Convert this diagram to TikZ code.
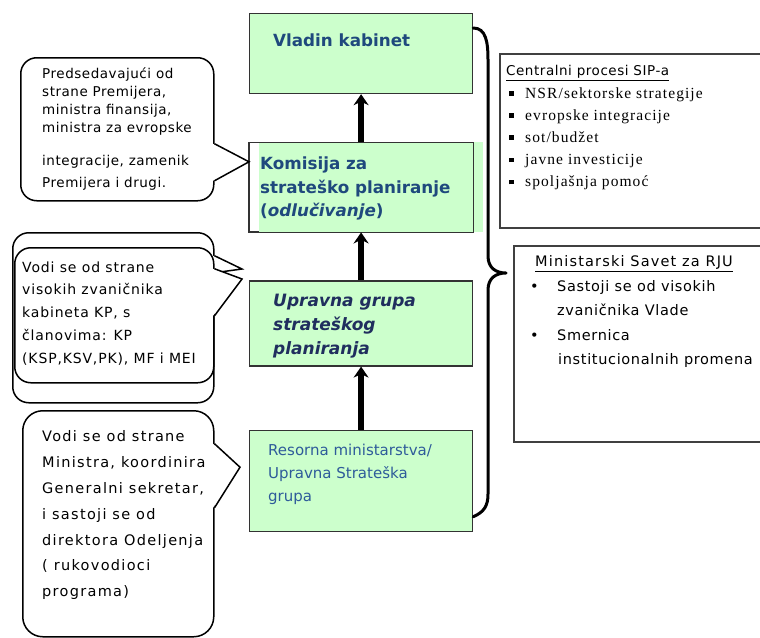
\documentclass[tikz,border=0pt]{standalone}
\usepackage{fontspec}
\usepackage{tikz}
\usepackage{xcolor}
\setmainfont{DejaVu Sans}
\setsansfont{DejaVu Sans}
\newfontfamily\timesfont[LetterSpace=7]{Liberation Serif}
\newfontfamily\calloutfont[LetterSpace=4]{DejaVu Sans}
\newfontfamily\loosefont[LetterSpace=6]{DejaVu Sans}
\newfontfamily\looserfont[LetterSpace=9]{DejaVu Sans}
\newfontfamily\widefont[LetterSpace=8]{DejaVu Sans}
\newfontfamily\itemfont[LetterSpace=4.5]{DejaVu Sans}
\usetikzlibrary{shapes.geometric, arrows, arrows.meta, positioning}

\definecolor{kgreen}{HTML}{CCFFCC}
\definecolor{kblue}{HTML}{1F497D}
\definecolor{knavy}{HTML}{202E5E}
\definecolor{mblue}{HTML}{2E5B9A}

\newcommand{\sqitem}{\hspace*{3pt}\makebox[16pt][l]{\raisebox{2.5pt}{\rule{4.5pt}{4.5pt}}}}
\newcommand{\dotitem}{\makebox[27pt][l]{\textbullet}}

\begin{document}
\begin{tikzpicture}[
    x=1pt, y=-1pt,
    node distance=48pt,
    level/.style={rectangle, minimum width=223pt, inner sep=0pt, draw=black!80, line width=1.2pt, fill=kgreen},
    bubble/.style={rectangle, rounded corners=16pt, inner sep=0pt, draw=black, line width=1.5pt, fill=white},
    note/.style={rectangle, inner sep=0pt, draw=black!75, line width=1.6pt, fill=white},
    boxtext/.style={inner sep=0pt, align=left, anchor=west, font=\bfseries\fontsize{16.75}{23.5}\selectfont, text=kblue},
    bubbletext/.style={inner sep=0pt, align=left, anchor=west, font=\calloutfont\fontsize{13.5}{18}\selectfont},
    arrow/.style={line width=5.5pt, -{Stealth[length=11pt, width=15pt]}},
    brace/.style={line width=3pt, line cap=round, line join=round}
]
\useasboundingbox (0,0) rectangle (760,637);

% planning levels
\node (vlada) [level, minimum height=80pt, anchor=north west] at (249,13) {};
\node (komisija) [level, minimum height=89pt, fill=none, below=48pt of vlada] {};
\fill[kgreen] ([xshift=10pt]komisija.north west) rectangle ([xshift=10pt]komisija.south east);
\draw[black!80, line width=1.2pt] (komisija.north west) rectangle (komisija.south east);
\node (upravna) [level, minimum height=85pt, below=48pt of komisija] {};
\node (resorna) [level, minimum height=101pt, below=63pt of upravna] {};

\node [boxtext] at ([xshift=24pt, yshift=-27pt]vlada.north west) {Vladin kabinet};
\node [boxtext] at ([xshift=11pt, yshift=-1.5pt]komisija.west) {Komisija za\\strateško planiranje\\(\textit{odlučivanje})};
\node [boxtext, text=knavy, font=\bfseries\itshape\fontsize{17}{24}\selectfont] at ([xshift=24pt, yshift=-2.5pt]upravna.west) {Upravna grupa\\strateškog\\planiranja};
\node [boxtext, text=mblue, font=\fontsize{15}{23}\selectfont] at ([xshift=19pt, yshift=6.5pt]resorna.west) {Resorna ministarstva/\\Upravna Strateška\\grupa};

\draw [arrow] (komisija) -- (vlada);
\draw [arrow] (upravna) -- (komisija);
\draw [arrow] (resorna) -- (upravna);

% callouts on the left
\node (predsed) [bubble, minimum width=193pt, minimum height=143pt, anchor=north west] at (20,57) {};
\fill[white] ([xshift=-1.5pt, yshift=-14.5pt]predsed.east) -- ([yshift=25.5pt]komisija.west) -- ([xshift=-1.5pt, yshift=-51.5pt]predsed.east) -- cycle;
\draw[line width=1.5pt] ([yshift=-14.5pt]predsed.east) -- ([yshift=25.5pt]komisija.west) -- ([yshift=-51.5pt]predsed.east);
\node [bubbletext] at ([xshift=22pt]predsed.west) {Predsedavajući od\\strane Premijera,\\ministra finansija,\\ministra za evropske\\[15pt]integracije, zamenik\\[4pt]Premijera i drugi.};

\node (visokiback) [bubble, minimum width=201pt, minimum height=170pt, anchor=north west] at (12,232) {};
\fill[white] ([xshift=-1.5pt, yshift=62pt]visokiback.east) -- ([xshift=-7pt, yshift=54.5pt]upravna.west) -- ([xshift=-1.5pt, yshift=45pt]visokiback.east) -- cycle;
\draw[line width=1.5pt] ([yshift=62pt]visokiback.east) -- ([xshift=-7pt, yshift=54.5pt]upravna.west) -- ([yshift=45pt]visokiback.east);
\node (visoki) [bubble, minimum width=199pt, minimum height=135pt, anchor=north west] at (14,247) {};
\fill[white] ([xshift=-1.5pt, yshift=46.5pt]visoki.east) -- ([xshift=-7pt, yshift=44.5pt]upravna.west) -- ([xshift=-1.5pt, yshift=-0.5pt]visoki.east) -- cycle;
\draw[line width=1.5pt] ([yshift=46.5pt]visoki.east) -- ([xshift=-7pt, yshift=44.5pt]upravna.west) -- ([yshift=-0.5pt]visoki.east);
\node [bubbletext, font=\loosefont\fontsize{14}{22.75}\selectfont] at ([xshift=8pt, yshift=2pt]visoki.west) {Vodi se od strane\\visokih zvaničnika\\kabineta KP, s\\članovima: KP\\(KSP,KSV,PK), MF i MEI};

\node (ministra) [bubble, rounded corners=20pt, minimum width=191pt, minimum height=226pt, anchor=north west] at (22,410) {};
\fill[white] ([xshift=-1.5pt, yshift=80pt]ministra.east) -- ([xshift=-9pt, yshift=13.5pt]resorna.west) -- ([xshift=-1.5pt, yshift=16pt]ministra.east) -- cycle;
\draw[line width=1.5pt] ([yshift=80pt]ministra.east) -- ([xshift=-9pt, yshift=13.5pt]resorna.west) -- ([yshift=16pt]ministra.east);
\node [bubbletext, font=\looserfont\fontsize{14.5}{25.8}\selectfont] at ([xshift=20pt, yshift=8.5pt]ministra.west) {Vodi se od strane\\Ministra, koordinira\\Generalni sekretar,\\i sastoji se od\\direktora Odeljenja\\( rukovodioci\\programa)};

% brace and notes on the right
\draw[brace] ([yshift=-15pt]vlada.north east) .. controls (486,28) and (488,42) .. (488,60)
    -- (488,256) .. controls (488,268) and (496,273) .. (506,273)
    .. controls (496,273) and (488,278) .. (488,290)
    -- (488,494) .. controls (488,506) and (484,512) .. ([yshift=15pt]resorna.south east);

\node (procesi) [note, minimum width=263pt, minimum height=174pt, anchor=north west] at (499,53) {};
\node [anchor=north west, inner sep=0pt, align=left, font=\timesfont\fontsize{15.5}{22.2}\selectfont] at ([xshift=7pt, yshift=-12.4pt]procesi.north west)
    {{\calloutfont\fontsize{13.5}{22.2}\selectfont\underline{Centralni procesi SIP-a}}\\
     \sqitem NSR/sektorske strategije\\
     \sqitem evropske integracije\\
     \sqitem sot/budžet\\
     \sqitem javne investicije\\
     \sqitem spoljašnja pomoć};

\node (savet) [note, minimum width=249pt, minimum height=196pt, anchor=north west] at (513,245) {};
\node [anchor=north west, inner sep=0pt, align=left, font=\itemfont\fontsize{14.5}{24.5}\selectfont] at ([xshift=17pt, yshift=-10.5pt]savet.north west)
    {\hspace*{5pt}{\widefont\underline{Ministarski Savet za RJU}}\\
     \dotitem Sastoji se od visokih\\
     \hspace*{27pt}zvaničnika Vlade\\
     \dotitem Smernica\\
     \hspace*{28pt}institucionalnih promena};

\end{tikzpicture}
\end{document}
